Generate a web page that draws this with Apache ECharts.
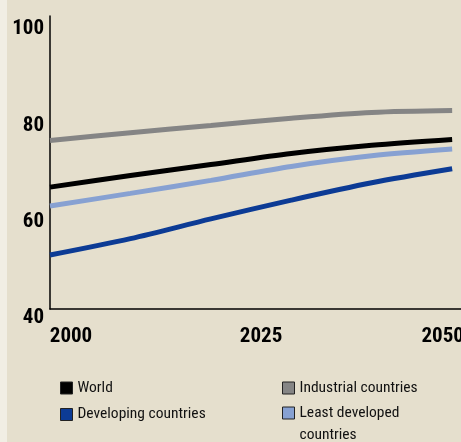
<!DOCTYPE html>
<html>
<head>
<meta charset="utf-8">
<script src="https://cdn.jsdelivr.net/npm/echarts@6/dist/echarts.min.js"></script>
<style>
html,body{margin:0;padding:0;background:#e5dfcd;}
#chart{width:461px;height:442px;}
</style>
</head>
<body>
<div id="chart"></div>
<script>
var years = [2000, 2010, 2020, 2030, 2040, 2050];
var world = [65.3, 67.7, 70.0, 72.3, 74.0, 75.2];
var industrial = [75.0, 76.6, 78.1, 79.6, 80.8, 81.2];
var developing = [51.2, 54.6, 58.7, 62.6, 66.2, 69.1];
var leastDeveloped = [61.4, 64.0, 66.7, 69.6, 71.8, 73.2];
var yTicks = [40, 60, 80, 100];
var xTicks = [2000, 2025, 2050];

var FONT = "'Roboto Condensed','Open Sans',sans-serif";
function pairs(vals){ return years.map(function(y,i){ return [y, vals[i]]; }); }

var chart = echarts.init(document.getElementById('chart'), null, {renderer:'canvas'});
var legendText = {fontFamily: FONT, fontSize: 15.5, color: '#111', lineHeight: 22};
var legendBase = {icon:'rect', itemWidth:12, itemHeight:12, itemGap:5, padding:0, selectedMode:false,
  itemStyle:{borderColor:'#222', borderWidth:1}, textStyle: legendText};
var tickFont = {fontFamily:FONT, fontWeight:'bold', fontSize:21, color:'#000'};

chart.setOption({
  backgroundColor: '#e5dfcd',
  animation: false,
  graphic: [{type:'rect', left:0, top:0, shape:{width:7, height:442}, style:{fill:'#f1eee4'}, silent:true, z:-1}],
  grid: {left:50, right:0, top:16, bottom:133, containLabel:false, outerBoundsMode:'none'},
  xAxis: {
    type:'value', min:2000, max:2051.1, interval:25,
    axisLine:{show:true, lineStyle:{color:'#000', width:1.5}},
    axisTick:{show:false}, splitLine:{show:false},
    axisLabel:{
      margin:17, hideOverlap:false, showMinLabel:true, showMaxLabel:true,
      formatter:function(v){
        if (v === xTicks[0]) return '{l|' + v + '}';
        if (v === xTicks[1]) return '{m|' + v + '}';
        if (v === xTicks[2]) return '{r|' + v + '}';
        return '';
      },
      rich:{
        l:Object.assign({padding:[0,0,0,42]}, tickFont),
        m:Object.assign({padding:[0,0,0,20]}, tickFont),
        r:Object.assign({padding:[0,19,0,0]}, tickFont)
      }
    }
  },
  yAxis: {
    type:'value', min:40, max:100.83, interval:20,
    axisLine:{show:true, lineStyle:{color:'#000', width:1.5}},
    axisTick:{show:false}, splitLine:{show:false},
    axisLabel:{
      margin:6,
      formatter:function(v){ return yTicks.indexOf(v) >= 0 ? '{a|' + v + '}' : ''; },
      rich:{ a:Object.assign({padding:[18,0,0,0]}, tickFont) }
    }
  },
  legend: [
    Object.assign({}, legendBase, {left:60, top:377, data:['World']}),
    Object.assign({}, legendBase, {left:60, top:403.5, data:['Developing countries']}),
    Object.assign({}, legendBase, {left:282, top:377, data:['Industrial countries']}),
    Object.assign({}, legendBase, {left:282, top:380, data:['Least developed countries'],
      formatter:function(){ return ' \nLeast developed\ncountries'; }})
  ],
  series: [
    {name:'Industrial countries', type:'line', smooth:0.3, showSymbol:false, data:pairs(industrial),
     color:'#858585', lineStyle:{width:5, color:'#858585'}},
    {name:'World', type:'line', smooth:0.3, showSymbol:false, data:pairs(world),
     color:'#000000', lineStyle:{width:5, color:'#000000'}},
    {name:'Least developed countries', type:'line', smooth:0.3, showSymbol:false, data:pairs(leastDeveloped),
     color:'#87a1d2', lineStyle:{width:5, color:'#87a1d2'}},
    {name:'Developing countries', type:'line', smooth:0.3, showSymbol:false, data:pairs(developing),
     color:'#0c3b95', lineStyle:{width:5, color:'#0c3b95'}}
  ]
});
</script>
</body>
</html>
